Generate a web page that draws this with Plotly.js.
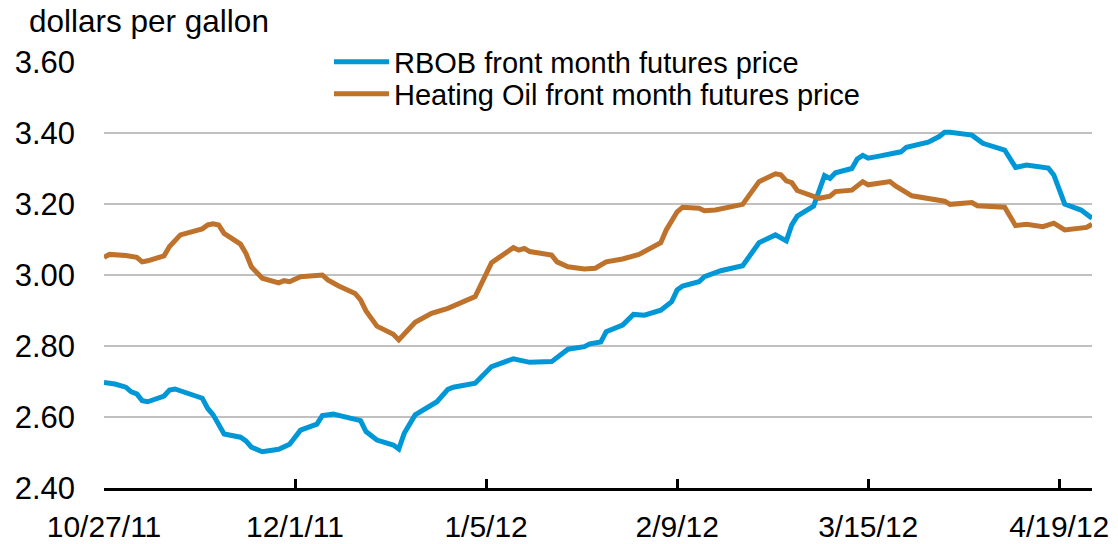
<!DOCTYPE html>
<html>
<head>
<meta charset="utf-8">
<script src="https://cdn.plot.ly/plotly-3.0.1.min.js"></script>
<style>html,body{margin:0;padding:0;background:#fff;}#chart{width:1118px;height:544px;}</style>
</head>
<body>
<div id="chart"></div>
<script>
const seriesNames = ['RBOB front month futures price', 'Heating Oil front month futures price'];
const yTitle = 'dollars per gallon';
const xTickVals = ['2011-10-27','2011-12-01','2012-01-05','2012-02-09','2012-03-15','2012-04-19'];
const xTickText = ['10/27/11','12/1/11','1/5/12','2/9/12','3/15/12','4/19/12'];
const yTickVals = [2.40, 2.60, 2.80, 3.00, 3.20, 3.40, 3.60];

const rbobDates = ['2011-10-27','2011-10-29','2011-10-31','2011-11-01','2011-11-02','2011-11-03','2011-11-04','2011-11-07','2011-11-08','2011-11-09',
'2011-11-14','2011-11-15','2011-11-16','2011-11-18','2011-11-21','2011-11-22','2011-11-23','2011-11-25','2011-11-28','2011-11-29',
'2011-11-30','2011-12-02','2011-12-05','2011-12-06','2011-12-08','2011-12-13','2011-12-14','2011-12-16','2011-12-19','2011-12-20',
'2011-12-21','2011-12-23','2011-12-27','2011-12-29','2011-12-30','2012-01-03','2012-01-06','2012-01-10','2012-01-11','2012-01-13',
'2012-01-17','2012-01-20','2012-01-23','2012-01-24','2012-01-26','2012-01-27','2012-01-30','2012-02-01','2012-02-03','2012-02-06',
'2012-02-08','2012-02-09','2012-02-10','2012-02-13','2012-02-14','2012-02-17','2012-02-21','2012-02-24','2012-02-27','2012-02-29',
'2012-03-01','2012-03-02','2012-03-05','2012-03-07','2012-03-08','2012-03-09','2012-03-12','2012-03-13','2012-03-14','2012-03-15',
'2012-03-17','2012-03-21','2012-03-22','2012-03-26','2012-03-28','2012-03-29','2012-03-30','2012-04-03','2012-04-05','2012-04-09',
'2012-04-11','2012-04-13','2012-04-17','2012-04-18','2012-04-20','2012-04-23','2012-04-25'];
const rbobValues = [2.697,2.693,2.684,2.671,2.665,2.646,2.643,2.659,2.676,2.679,
2.653,2.624,2.606,2.552,2.543,2.533,2.515,2.502,2.509,2.518,
2.523,2.563,2.580,2.604,2.608,2.590,2.559,2.535,2.521,2.510,
2.554,2.606,2.643,2.678,2.684,2.695,2.742,2.764,2.761,2.754,
2.756,2.791,2.798,2.806,2.811,2.840,2.859,2.889,2.887,2.901,
2.925,2.958,2.969,2.981,2.995,3.012,3.026,3.091,3.113,3.096,
3.141,3.166,3.194,3.280,3.272,3.288,3.300,3.327,3.337,3.329,
3.335,3.347,3.360,3.374,3.390,3.402,3.402,3.394,3.371,3.352,
3.303,3.310,3.301,3.282,3.200,3.183,3.160];

const hoDates = ['2011-10-27','2011-10-28','2011-10-31','2011-11-02','2011-11-03','2011-11-04','2011-11-07','2011-11-08','2011-11-10','2011-11-14',
'2011-11-15','2011-11-16','2011-11-17','2011-11-18','2011-11-21','2011-11-22','2011-11-23','2011-11-25','2011-11-28','2011-11-29',
'2011-11-30','2011-12-02','2011-12-06','2011-12-07','2011-12-09','2011-12-12','2011-12-13','2011-12-14','2011-12-16','2011-12-19',
'2011-12-20','2011-12-23','2011-12-26','2011-12-28','2011-12-29','2012-01-03','2012-01-04','2012-01-06','2012-01-10','2012-01-11',
'2012-01-12','2012-01-13','2012-01-17','2012-01-18','2012-01-20','2012-01-23','2012-01-25','2012-01-27','2012-01-30','2012-02-01',
'2012-02-02','2012-02-06','2012-02-07','2012-02-09','2012-02-10','2012-02-13','2012-02-14','2012-02-16','2012-02-21','2012-02-24',
'2012-02-27','2012-02-28','2012-02-29','2012-03-01','2012-03-02','2012-03-06','2012-03-07','2012-03-08','2012-03-09','2012-03-12',
'2012-03-14','2012-03-15','2012-03-19','2012-03-20','2012-03-23','2012-03-26','2012-03-29','2012-03-30','2012-04-03','2012-04-04',
'2012-04-09','2012-04-11','2012-04-13','2012-04-16','2012-04-18','2012-04-20','2012-04-24','2012-04-25'];
const hoValues = [3.050,3.058,3.055,3.050,3.037,3.040,3.054,3.080,3.113,3.130,
3.141,3.144,3.141,3.117,3.087,3.061,3.023,2.991,2.978,2.984,
2.981,2.995,3.000,2.986,2.969,2.948,2.930,2.899,2.856,2.833,
2.817,2.867,2.892,2.903,2.906,2.939,2.970,3.035,3.077,3.070,
3.075,3.066,3.056,3.037,3.023,3.017,3.019,3.037,3.045,3.056,
3.058,3.091,3.127,3.178,3.191,3.188,3.181,3.183,3.199,3.263,
3.285,3.282,3.265,3.260,3.238,3.216,3.219,3.222,3.235,3.239,
3.263,3.254,3.263,3.251,3.223,3.216,3.208,3.199,3.204,3.195,
3.191,3.139,3.143,3.136,3.146,3.127,3.134,3.143];

const FONT = 'Liberation Sans, Arial, sans-serif';
const BLUE = '#0097d7';
const ORANGE = '#bf722b';

const traces = [
  {type:'scatter', mode:'lines', name:seriesNames[0], x:rbobDates, y:rbobValues,
   line:{color:BLUE, width:5}, legend:'legend', hoverinfo:'x+y'},
  {type:'scatter', mode:'lines', name:seriesNames[1], x:hoDates, y:hoValues,
   line:{color:ORANGE, width:5}, legend:'legend2', hoverinfo:'x+y'}
];

const legendCommon = {xanchor:'left', yanchor:'middle', borderwidth:0,
  font:{family:FONT, size:29, color:'#000'}, itemwidth:55, itemclick:false, itemdoubleclick:false};

const PLOT_L = 104, PLOT_W = 988, PLOT_B = 488, PLOT_H = 426;
const px2x = p => (p - PLOT_L) / PLOT_W;
const px2y = p => (PLOT_B - p) / PLOT_H;

const layout = {
  width:1118, height:544,
  margin:{l:PLOT_L, r:1118-PLOT_L-PLOT_W, t:PLOT_B-PLOT_H, b:544-PLOT_B, pad:0},
  paper_bgcolor:'#fff', plot_bgcolor:'#fff',
  font:{family:FONT, size:30, color:'#000'},
  title:{text:yTitle, x:29/1118, xref:'container', xanchor:'left', y:1-21/544, yref:'container', yanchor:'middle',
         font:{family:FONT, size:31.5, color:'#000'}},
  xaxis:{type:'date', range:['2011-10-27','2012-04-25'], tickvals:xTickVals, ticktext:xTickText,
         showgrid:false, zeroline:false, showline:true, linecolor:'#000', linewidth:3,
         ticks:'inside', ticklen:9, tickwidth:3, tickcolor:'#000', ticklabelstandoff:10,
         tickfont:{family:FONT, size:30, color:'#000'}, fixedrange:true},
  yaxis:{range:[2.4, 3.6], tickvals:yTickVals, tickformat:'.2f', showgrid:true, gridcolor:'#c0c0c0', gridwidth:1.5,
         zeroline:false, showline:false, ticks:'', ticklabelstandoff:28,
         tickfont:{family:FONT, size:31, color:'#000'}, fixedrange:true},
  legend: Object.assign({x:px2x(329), y:px2y(62), bgcolor:'#ffffff'}, legendCommon),
  legend2: Object.assign({x:px2x(329), y:px2y(94), bgcolor:'rgba(0,0,0,0)'}, legendCommon),
  shapes:[{type:'rect', xref:'paper', yref:'paper', x0:px2x(301), x1:px2x(899), y0:px2y(66), y1:px2y(58),
           fillcolor:'#ffffff', line:{width:0}, layer:'above'}],
  showlegend:true
};

Plotly.newPlot('chart', traces, layout, {displayModeBar:false});
</script>
</body>
</html>
